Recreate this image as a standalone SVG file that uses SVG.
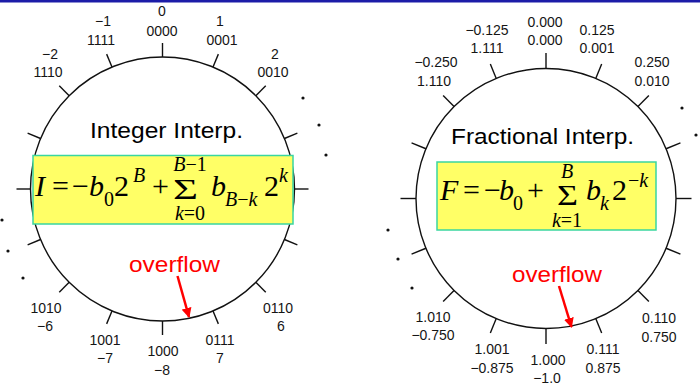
<svg xmlns="http://www.w3.org/2000/svg" xmlns:xlink="http://www.w3.org/1999/xlink" width="700" height="385" viewBox="0 0 700 385">
<style>
.lbl{font-family:"Liberation Sans",Arial,sans-serif;font-size:14px;fill:#151515;text-anchor:middle}
.ttl{font-family:"Liberation Sans",Arial,sans-serif;font-size:22px;fill:#000;text-anchor:middle}
.ovf{font-family:"Liberation Sans",Arial,sans-serif;font-size:22px;fill:#ff0000}
.ring{fill:none;stroke:#111;stroke-width:1.4}
.tick{stroke:#111;stroke-width:1.4}
.box{fill:#ffff66;stroke:#3ad6a0;stroke-width:1.5}
.m{font-family:"Liberation Serif","Times New Roman",serif;font-size:30px;fill:#000}
.s{font-family:"Liberation Serif","Times New Roman",serif;font-size:20px;fill:#000}
.i{font-style:italic}
.dot{fill:#111}
.arr{stroke:#ff0000;stroke-width:2.5;fill:none}
</style>
<defs>
<line id="tkL" class="tick" x1="162.5" y1="57" x2="162.5" y2="43"/>
<line id="tkR" class="tick" x1="546" y1="68.5" x2="546" y2="53"/>
<marker id="ah" viewBox="0 0 10 10" refX="9" refY="5" markerWidth="4" markerHeight="4" orient="auto" markerUnits="strokeWidth">
<path d="M0,0 L10,5 L0,10 Z" fill="#ff0000"/>
</marker>
</defs>
<rect x="0" y="0" width="700" height="2.5" fill="#1c1ca8"/>

<g id="integer-wheel">
<circle class="ring" cx="162.5" cy="189" r="132"/>
<use href="#tkL"/>
<use href="#tkL" transform="rotate(22.5 162.5 189)"/>
<use href="#tkL" transform="rotate(45 162.5 189)"/>
<use href="#tkL" transform="rotate(67.5 162.5 189)"/>
<use href="#tkL" transform="rotate(90 162.5 189)"/>
<use href="#tkL" transform="rotate(112.5 162.5 189)"/>
<use href="#tkL" transform="rotate(135 162.5 189)"/>
<use href="#tkL" transform="rotate(157.5 162.5 189)"/>
<use href="#tkL" transform="rotate(180 162.5 189)"/>
<use href="#tkL" transform="rotate(-22.5 162.5 189)"/>
<use href="#tkL" transform="rotate(-45 162.5 189)"/>
<use href="#tkL" transform="rotate(-67.5 162.5 189)"/>
<use href="#tkL" transform="rotate(-90 162.5 189)"/>
<use href="#tkL" transform="rotate(-112.5 162.5 189)"/>
<use href="#tkL" transform="rotate(-135 162.5 189)"/>
<use href="#tkL" transform="rotate(-157.5 162.5 189)"/>
<circle class="dot" cx="303" cy="98" r="1.6"/>
<circle class="dot" cx="319" cy="125" r="1.6"/>
<circle class="dot" cx="326" cy="155" r="1.6"/>
<circle class="dot" cx="2" cy="220" r="1.6"/>
<circle class="dot" cx="8" cy="251" r="1.6"/>
<circle class="dot" cx="23" cy="278" r="1.6"/>
<text class="lbl" x="162" y="16">0</text><text class="lbl" x="162" y="36">0000</text>
<text class="lbl" x="103" y="26">−1</text><text class="lbl" x="101" y="45">1111</text>
<text class="lbl" x="220" y="26">1</text><text class="lbl" x="222" y="45">0001</text>
<text class="lbl" x="50" y="59">−2</text><text class="lbl" x="48" y="77">1110</text>
<text class="lbl" x="275" y="59">2</text><text class="lbl" x="273" y="77">0010</text>
<text class="lbl" x="46" y="313">1010</text><text class="lbl" x="45" y="331">−6</text>
<text class="lbl" x="105" y="345">1001</text><text class="lbl" x="105" y="363">−7</text>
<text class="lbl" x="163" y="356">1000</text><text class="lbl" x="162" y="375">−8</text>
<text class="lbl" x="220" y="345">0111</text><text class="lbl" x="220" y="363">7</text>
<text class="lbl" x="278" y="313">0110</text><text class="lbl" x="281" y="331">6</text>
</g>

<g id="integer-title">
<text class="ttl" x="166.5" y="138" textLength="153" lengthAdjust="spacingAndGlyphs">Integer Interp.</text>
</g>

<g id="integer-formula">
<rect class="box" x="33" y="155.5" width="260" height="68.5"/>
<text class="m i" x="35" y="196">I</text>
<text class="m" x="52" y="196">=</text>
<text class="m" x="72" y="196">−</text>
<text class="m i" x="89" y="196">b</text>
<text class="s" x="104" y="206">0</text>
<text class="m" x="114" y="196">2</text>
<text class="s i" x="133" y="182">B</text>
<text class="m" x="152" y="196">+</text>
<text class="m" x="173" y="199" font-size="25" textLength="25" lengthAdjust="spacingAndGlyphs">Σ</text>
<text class="s" x="190" y="171" text-anchor="middle"><tspan font-style="italic">B</tspan>−1</text>
<text class="s" x="190" y="220" text-anchor="middle"><tspan font-style="italic">k</tspan>=0</text>
<text class="m i" x="211" y="196">b</text>
<text class="s" x="225" y="206"><tspan font-style="italic">B</tspan>−<tspan font-style="italic">k</tspan></text>
<text class="m" x="264" y="196">2</text>
<text class="s i" x="279" y="182">k</text>
</g>

<g id="integer-overflow">
<text class="ovf" x="129" y="272" textLength="91" lengthAdjust="spacingAndGlyphs">overflow</text>
</g>

<g id="fraction-wheel">
<circle class="ring" cx="546" cy="198.5" r="130"/>
<use href="#tkR"/>
<use href="#tkR" transform="rotate(22.5 546 198.5)"/>
<use href="#tkR" transform="rotate(45 546 198.5)"/>
<use href="#tkR" transform="rotate(67.5 546 198.5)"/>
<use href="#tkR" transform="rotate(90 546 198.5)"/>
<use href="#tkR" transform="rotate(112.5 546 198.5)"/>
<use href="#tkR" transform="rotate(135 546 198.5)"/>
<use href="#tkR" transform="rotate(157.5 546 198.5)"/>
<use href="#tkR" transform="rotate(180 546 198.5)"/>
<use href="#tkR" transform="rotate(-22.5 546 198.5)"/>
<use href="#tkR" transform="rotate(-45 546 198.5)"/>
<use href="#tkR" transform="rotate(-67.5 546 198.5)"/>
<use href="#tkR" transform="rotate(-90 546 198.5)"/>
<use href="#tkR" transform="rotate(-112.5 546 198.5)"/>
<use href="#tkR" transform="rotate(-135 546 198.5)"/>
<use href="#tkR" transform="rotate(-157.5 546 198.5)"/>
<circle class="dot" cx="682" cy="108" r="1.6"/>
<circle class="dot" cx="696" cy="135" r="1.6"/>
<circle class="dot" cx="388" cy="230" r="1.6"/>
<circle class="dot" cx="398" cy="259" r="1.6"/>
<circle class="dot" cx="412" cy="288" r="1.6"/>
<text class="lbl" x="545" y="27">0.000</text><text class="lbl" x="545" y="45">0.000</text>
<text class="lbl" x="487" y="35">−0.125</text><text class="lbl" x="487" y="53">1.111</text>
<text class="lbl" x="597" y="35">0.125</text><text class="lbl" x="597" y="53">0.001</text>
<text class="lbl" x="436" y="67">−0.250</text><text class="lbl" x="434" y="86">1.110</text>
<text class="lbl" x="652" y="67">0.250</text><text class="lbl" x="652" y="86">0.010</text>
<text class="lbl" x="433" y="322">1.010</text><text class="lbl" x="433" y="340">−0.750</text>
<text class="lbl" x="492" y="354">1.001</text><text class="lbl" x="492" y="373">−0.875</text>
<text class="lbl" x="548" y="365">1.000</text><text class="lbl" x="547" y="383">−1.0</text>
<text class="lbl" x="603" y="354">0.111</text><text class="lbl" x="603" y="373">0.875</text>
<text class="lbl" x="659" y="323">0.110</text><text class="lbl" x="659" y="342">0.750</text>
</g>

<g id="fraction-title">
<text class="ttl" x="542.5" y="144" textLength="183" lengthAdjust="spacingAndGlyphs">Fractional Interp.</text>
</g>

<g id="fraction-formula">
<rect class="box" x="437" y="162" width="219" height="68"/>
<text class="m i" x="440" y="200">F</text>
<text class="m" x="463" y="200">=</text>
<text class="m" x="484" y="200">−</text>
<text class="m i" x="499" y="200">b</text>
<text class="s" x="513" y="210">0</text>
<text class="m" x="527" y="200">+</text>
<text class="m" x="557" y="205" font-size="23" textLength="21" lengthAdjust="spacingAndGlyphs">Σ</text>
<text class="s i" x="567" y="178" text-anchor="middle">B</text>
<text class="s" x="567" y="227" text-anchor="middle"><tspan font-style="italic">k</tspan>=1</text>
<text class="m i" x="586" y="200">b</text>
<text class="s i" x="600" y="210">k</text>
<text class="m" x="612" y="200">2</text>
<text class="s" x="628" y="187">−<tspan font-style="italic">k</tspan></text>
</g>

<g id="fraction-overflow">
<text class="ovf" x="512" y="282" textLength="90" lengthAdjust="spacingAndGlyphs">overflow</text>
</g>

<g id="connectors">
<line class="arr" x1="177.5" y1="276" x2="189" y2="317" marker-end="url(#ah)"/>
<line class="arr" x1="559" y1="286" x2="571.5" y2="327" marker-end="url(#ah)"/>
</g>
</svg>
